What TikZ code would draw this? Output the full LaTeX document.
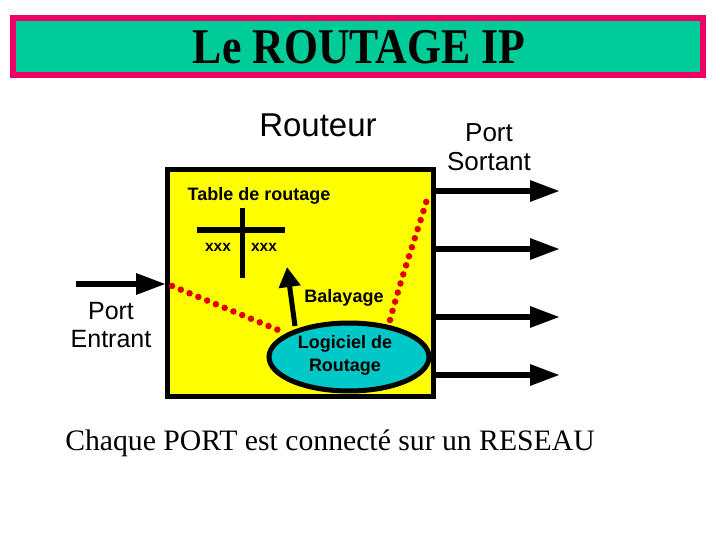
\documentclass[tikz,border=0pt]{standalone}
\usepackage{fontspec}
\setmainfont{Liberation Serif}
\setsansfont{Liberation Sans}
\usetikzlibrary{arrows.meta,shapes.geometric}
\definecolor{pinkb}{RGB}{240,0,100}
\definecolor{greenb}{RGB}{0,204,153}
\definecolor{yel}{RGB}{255,255,0}
\definecolor{teal2}{RGB}{0,200,200}
\definecolor{dotred}{RGB}{225,0,0}
\tikzset{
  portarrow/.style={line width=6pt,-{Triangle[length=30pt,width=20pt]}},
  reddots/.style={dotred,line width=6.5pt,line cap=round,dash pattern=on 0pt off 9.5pt},
  lbl/.style={font=\sffamily\fontsize{#1}{#1}\selectfont,align=center,inner sep=0pt},
  blbl/.style={font=\sffamily\bfseries\fontsize{#1}{#1}\selectfont,align=center,inner sep=0pt},
}
\begin{document}
\begin{tikzpicture}[x=1pt,y=-1pt]
\useasboundingbox (0,0) rectangle (720,540);
% title
\node[draw=pinkb,fill=greenb,line width=6.5pt,minimum width=690pt,minimum height=57pt,inner sep=0pt] (title) at (358,46.5) {};
\node[font=\bfseries\fontsize{50}{50}\selectfont,xscale=0.875,inner sep=0pt] (ttext) at (359,47) {Le ROUTAGE IP};
% labels
\node[lbl=33] (routeur) at (318,125) {Routeur};
\node[lbl=26,text depth=0pt] (psort) at (489,147) {Port\\[3pt]Sortant};
\node[lbl=25] (pentr) at (111,325) {Port\\[3pt]Entrant};
% router box
\node[draw,fill=yel,line width=5pt,minimum width=266pt,minimum height=226pt,inner sep=0pt] (box) at (300,283) {};
\node[blbl=18] (table) at (259,196) {Table de routage};
\coordinate (hl) at (197,230); \coordinate (hr) at (285,230);
\coordinate (vt) at (242,208); \coordinate (vb) at (242,278);
\draw[line width=5pt] (hl) -- (hr);
\draw[line width=5pt] (vt) -- (vb);
\node[blbl=15.5] (x1) at (218,247) {xxx};
\node[blbl=15.5] (x2) at (264,247) {xxx};
% ellipse
\node[ellipse,draw,fill=teal2,line width=5pt,minimum width=160pt,minimum height=68pt,inner sep=0pt] (logi) at (349,357) {};
\node[blbl=18] (logit) at (345,355) {Logiciel de\\[5pt]Routage};
% balayage arrow
\coordinate (bstart) at (295,326);
\coordinate (btip) at (287,267);
\draw[line width=5pt,-{Triangle[length=20pt,width=21pt]}] (bstart) -- (btip);
\node[blbl=18] (bal) at (344,298) {Balayage};
% red dots
\coordinate (d1) at (172,286);
\coordinate (d2) at (283,332);
\draw[reddots] (d1) -- (d2);
\coordinate (d3) at (390,320);
\coordinate (d4) at (428,196);
\draw[reddots] (d3) .. controls (402,275) and (418,230) .. (d4);
% arrows
\coordinate (in0) at (76,284);
\draw[portarrow] (in0) -- (166,284);
\foreach \y/\n in {191/o1,249/o2,317/o3,375/o4}{
  \coordinate (\n) at (560,\y);
  \draw[portarrow] (434,\y) -- (\n);
}
% bottom text
\node[font=\fontsize{29.7}{30}\selectfont,inner sep=0pt] (bottom) at (330,443) {Chaque PORT est connecté sur un RESEAU};
\end{tikzpicture}
\end{document}
